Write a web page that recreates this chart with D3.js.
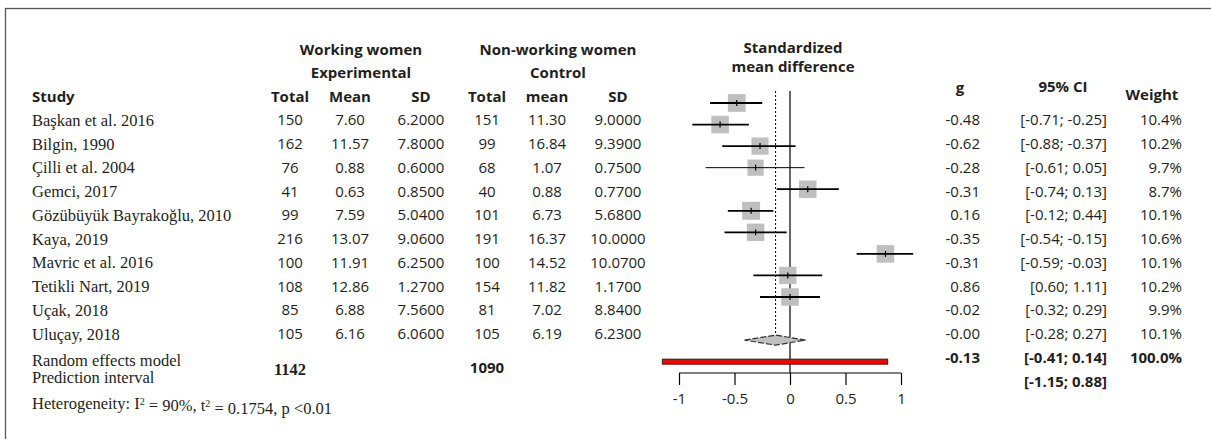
<!DOCTYPE html>
<html>
<head>
<meta charset="utf-8">
<script src="https://cdn.jsdelivr.net/npm/d3@7"></script>
<style>
  body { margin: 0; background: #fff; }
  .sans { font-family: "Open Sans", sans-serif; font-size: 15px; fill: #231f20; }
  .serif { font-family: "Liberation Serif", serif; font-size: 16.5px; fill: #231f20; }
  .bold { font-weight: bold; }
</style>
</head>
<body>
<div id="chart"></div>
<script>
const studies = ["Başkan et al. 2016", "Bilgin, 1990", "Çilli et al. 2004", "Gemci, 2017",
  "Gözübüyük Bayrakoğlu, 2010", "Kaya, 2019", "Mavric et al. 2016", "Tetikli Nart, 2019",
  "Uçak, 2018", "Uluçay, 2018"]
const expTotal = [150, 162, 76, 41, 99, 216, 100, 108, 85, 105]
const expMean = [7.60, 11.57, 0.88, 0.63, 7.59, 13.07, 11.91, 12.86, 6.88, 6.16]
const expSD = [6.20, 7.80, 0.60, 0.85, 5.04, 9.06, 6.25, 1.27, 7.56, 6.06]
const ctrlTotal = [151, 99, 68, 40, 101, 191, 100, 154, 81, 105]
const ctrlMean = [11.30, 16.84, 1.07, 0.88, 6.73, 16.37, 14.52, 11.82, 7.02, 6.19]
const ctrlSD = [9.00, 9.39, 0.75, 0.77, 5.68, 10.00, 10.07, 1.17, 8.84, 6.23]
const gVal = [-0.48, -0.62, -0.28, -0.31, 0.16, -0.35, -0.31, 0.86, -0.02, -0.00]
const ciLow = [-0.71, -0.88, -0.61, -0.74, -0.12, -0.54, -0.59, 0.60, -0.32, -0.28]
const ciHigh = [-0.25, -0.37, 0.05, 0.13, 0.44, -0.15, -0.03, 1.11, 0.29, 0.27]
const weight = [10.4, 10.2, 9.7, 8.7, 10.1, 10.6, 10.1, 10.2, 9.9, 10.1]

// the plotted markers (as in the source figure) run at their own row spacing
const plotG = [-0.48, -0.63, -0.27, -0.31, 0.16, -0.35, -0.31, 0.86, -0.02, 0.00]
const plotLow = [-0.72, -0.88, -0.61, -0.76, -0.12, -0.56, -0.59, 0.60, -0.33, -0.27]
const plotHigh = [-0.25, -0.37, 0.05, 0.13, 0.44, -0.15, -0.03, 1.11, 0.29, 0.27]
const plotW = [10.4, 10.2, 9.7, 8.7, 10.1, 10.6, 10.1, 10.2, 9.9, 10.1]

const pooled = [-0.13, -0.41, 0.14]
const predInt = [-1.15, 0.88]
const totals = [1142, 1090]
const xTicks = [-1, -0.5, 0, 0.5, 1]
const xTickLabels = ["-1", "-0.5", "0", "0.5", "1"]

const W = 1211, H = 439
const svg = d3.select("#chart").append("svg").attr("width", W).attr("height", H)

// frame (only top and left visible in the crop)
svg.append("rect").attr("x", 5.5).attr("y", 8.5).attr("width", 1300).attr("height", 500)
  .attr("fill", "none").attr("stroke", "#555").attr("stroke-width", 1.3)

const fmt2 = v => (v < 0 || Object.is(v, -0) ? "-" : "") + Math.abs(v).toFixed(2)
const fmt4 = v => v.toFixed(4)
const ci = (a, b) => "[" + fmt2(a) + "; " + fmt2(b) + "]"

const yTab = d3.scaleLinear().domain([0, 9]).range([120, 334])
const yPlot = d3.scaleLinear().domain([0, 9]).range([103, 297])
const x = d3.scaleLinear().domain([-1, 1]).range([679, 901])

function txt(cls, tx, ty, s, anchor) {
  return svg.append("text").attr("class", cls).attr("x", tx).attr("y", ty)
    .attr("dy", "0.35em").attr("text-anchor", anchor || "middle").text(s)
}

// headers
txt("sans bold", 361, 50, "Working women")
txt("sans bold", 361, 73, "Experimental")
txt("sans bold", 558, 50, "Non-working women")
txt("sans bold", 558, 73, "Control")
txt("sans bold", 793, 48, "Standardized")
txt("sans bold", 793, 67, "mean difference")
txt("sans bold", 32, 97, "Study", "start")
txt("sans bold", 290, 97, "Total")
txt("sans bold", 350, 97, "Mean")
txt("sans bold", 421, 97, "SD")
txt("sans bold", 487, 97, "Total")
txt("sans bold", 547, 97, "mean")
txt("sans bold", 618, 97, "SD")
txt("sans bold", 960, 88, "g")
txt("sans bold", 1063, 87, "95% CI")
txt("sans bold", 1152, 95, "Weight")

// table rows
const rows = svg.append("g").selectAll("g").data(studies).join("g")
  .attr("transform", (d, i) => `translate(0,${yTab(i)})`)
const cell = (sel, cls, cx, f, anchor) => sel.append("text").attr("class", cls)
  .attr("x", cx).attr("dy", "0.35em").attr("text-anchor", anchor || "middle").text(f)
cell(rows, "serif", 32, d => d, "start")
cell(rows, "sans", 290, (d, i) => expTotal[i])
cell(rows, "sans", 350, (d, i) => expMean[i].toFixed(2))
cell(rows, "sans", 421, (d, i) => fmt4(expSD[i]))
cell(rows, "sans", 487, (d, i) => ctrlTotal[i])
cell(rows, "sans", 547, (d, i) => ctrlMean[i].toFixed(2))
cell(rows, "sans", 618, (d, i) => fmt4(ctrlSD[i]))
cell(rows, "sans", 980, (d, i) => fmt2(gVal[i]), "end")
cell(rows, "sans", 1107, (d, i) => ci(ciLow[i], ciHigh[i]), "end")
cell(rows, "sans", 1182, (d, i) => weight[i].toFixed(1) + "%", "end")

// summary rows
txt("serif", 32, 360, "Random effects model", "start")
txt("serif", 32, 377, "Prediction interval", "start")
txt("serif bold", 290, 369, totals[0])
txt("sans bold", 487, 368, totals[1])
txt("sans bold", 980, yTab(10), fmt2(pooled[0]), "end")
txt("sans bold", 1107, yTab(10), ci(pooled[1], pooled[2]), "end")
txt("sans bold", 1182, yTab(10), "100.0%", "end")
txt("sans bold", 1107, yTab(11), ci(predInt[0], predInt[1]), "end")

const het = svg.append("text").attr("class", "serif").attr("x", 32).attr("y", 403).attr("dy", "0.35em")
het.append("tspan").text("Heterogeneity: I")
het.append("tspan").attr("dy", "-0.4em").attr("font-size", "10px").text("2")
het.append("tspan").attr("dy", "0.4em").text(" = 90%, t")
het.append("tspan").attr("dy", "-0.4em").attr("font-size", "10px").text("2")
het.append("tspan").attr("dy", "0.4em").text(" = 0.1754, p <0.01")

// forest plot
const plot = svg.append("g")
plot.append("line").attr("x1", x(0)).attr("x2", x(0)).attr("y1", 91).attr("y2", 373)
  .attr("stroke", "#000").attr("stroke-width", 1.2)
plot.append("line").attr("x1", x(pooled[0])).attr("x2", x(pooled[0])).attr("y1", 91).attr("y2", 335)
  .attr("stroke", "#000").attr("stroke-width", 1).attr("stroke-dasharray", "2,2")

const side = w => 5.5 * Math.sqrt(w)
const mk = plot.selectAll(".study").data(plotG).join("g").attr("class", "study")
mk.append("rect")
  .attr("x", (d, i) => x(d) - side(plotW[i]) / 2)
  .attr("y", (d, i) => yPlot(i) - side(plotW[i]) / 2)
  .attr("width", (d, i) => side(plotW[i])).attr("height", (d, i) => side(plotW[i]))
  .attr("fill", "#bfbfbf")
mk.append("line")
  .attr("x1", (d, i) => x(plotLow[i])).attr("x2", (d, i) => x(plotHigh[i]))
  .attr("y1", (d, i) => yPlot(i)).attr("y2", (d, i) => yPlot(i))
  .attr("stroke", "#000").attr("stroke-width", (d, i) => plotW[i] < 9 ? 1 : 1.8)
mk.append("line")
  .attr("x1", d => x(d)).attr("x2", d => x(d))
  .attr("y1", (d, i) => yPlot(i) - 3).attr("y2", (d, i) => yPlot(i) + 3)
  .attr("stroke", "#000").attr("stroke-width", 1.2)

// pooled diamond
const yd = yPlot(11)
plot.append("path")
  .attr("d", `M${x(pooled[1])},${yd} L${x(pooled[0])},${yd - 5} L${x(pooled[2])},${yd} L${x(pooled[0])},${yd + 5} Z`)
  .attr("fill", "#bfbfbf").attr("stroke", "#333").attr("stroke-width", 1.2).attr("stroke-dasharray", "6,2")

// prediction interval bar
const yr = yPlot(12)
plot.append("rect").attr("x", x(predInt[0])).attr("y", yr - 2.5)
  .attr("width", x(predInt[1]) - x(predInt[0])).attr("height", 5)
  .attr("fill", "#ff0000").attr("stroke", "#222").attr("stroke-width", 1)

// axis
const axis = d3.axisBottom(x).tickValues(xTicks).tickSize(12).tickPadding(8)
  .tickFormat((d, i) => xTickLabels[i])
const ax = plot.append("g").attr("transform", "translate(0,373)").call(axis)
ax.select(".domain").attr("d", `M${x(-1)},0H${x(1)}`).attr("stroke", "#000").attr("stroke-width", 1.2)
ax.selectAll(".tick line").attr("stroke", "#000").attr("stroke-width", 1.2)
ax.selectAll(".tick text").attr("class", "sans").style("font-size", "15px").attr("fill", "#231f20")
</script>
</body>
</html>
